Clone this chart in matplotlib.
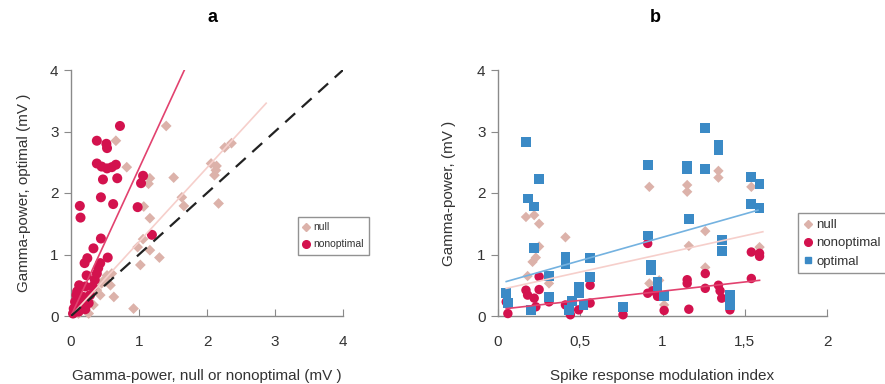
import matplotlib
matplotlib.use("Agg")
import matplotlib.pyplot as plt
from matplotlib.lines import Line2D

plt.rcParams['font.family'] = ['Liberation Sans', 'DejaVu Sans']

# ---------------- Panel a data ----------------
a_nonopt_x = [0.72, 0.38, 0.52, 0.53, 0.38, 0.45, 0.53, 0.60, 0.66, 0.47, 0.68, 0.44, 0.62,
              1.06, 1.03, 0.98, 0.13, 0.14, 1.19, 0.44, 0.33, 0.24, 0.20, 0.54, 0.43, 0.40,
              0.38, 0.35, 0.23, 0.12, 0.21, 0.32, 0.08, 0.18, 0.28, 0.06, 0.13, 0.26, 0.04,
              0.11, 0.21, 0.03, 0.09, 0.16, 0.07]
a_nonopt_y = [3.09, 2.85, 2.80, 2.73, 2.48, 2.43, 2.40, 2.42, 2.46, 2.22, 2.24, 1.93, 1.82,
              2.28, 2.16, 1.77, 1.79, 1.60, 1.32, 1.26, 1.10, 0.94, 0.86, 0.95, 0.86, 0.78,
              0.69, 0.59, 0.66, 0.50, 0.48, 0.48, 0.34, 0.31, 0.34, 0.23, 0.18, 0.21, 0.12,
              0.07, 0.11, 0.04, 0.40, 0.25, 0.15]

a_null_x = [1.40, 0.66, 0.82, 1.51, 1.16, 1.14, 1.07, 1.16, 1.63, 1.66, 2.06, 2.14, 2.13,
            2.11, 2.26, 2.36, 2.17, 0.98, 1.06, 1.02, 1.16, 1.30, 0.92, 0.60, 0.58, 0.63,
            0.45, 0.38, 0.33, 0.26, 0.28, 0.21, 0.11, 0.43, 0.53, 0.50]
a_null_y = [3.09, 2.85, 2.42, 2.25, 2.24, 2.15, 1.78, 1.59, 1.93, 1.79, 2.48, 2.44, 2.37,
            2.29, 2.74, 2.81, 1.83, 1.12, 1.25, 0.83, 1.07, 0.95, 0.12, 0.69, 0.50, 0.31,
            0.53, 0.42, 0.18, 0.04, 0.21, 0.15, 0.04, 0.34, 0.66, 0.60]

# regression / reference lines (x range, y range)
a_fit_nonopt = ([0.0, 1.68], [0.0, 4.03])
a_fit_null = ([0.0, 2.87], [0.0, 3.46])
a_identity = ([0.0, 4.0], [0.0, 4.0])

# ---------------- Panel b data ----------------
b_opt_x = [0.05, 0.06, 0.17, 0.18, 0.22, 0.25, 0.22, 0.20, 0.31, 0.31, 0.41, 0.41, 0.43, 0.45,
           0.49, 0.49, 0.52, 0.56, 0.56, 0.76, 0.91, 0.91, 0.93, 0.93, 0.97, 0.97, 1.01, 1.15,
           1.15, 1.16, 1.26, 1.26, 1.34, 1.34, 1.36, 1.36, 1.41, 1.41, 1.54, 1.59, 1.54, 1.59]
b_opt_y = [0.37, 0.21, 2.83, 1.91, 1.78, 2.23, 1.10, 0.10, 0.65, 0.31, 0.96, 0.85, 0.10, 0.25,
           0.47, 0.37, 0.18, 0.94, 0.64, 0.14, 2.46, 1.31, 0.83, 0.75, 0.56, 0.48, 0.33, 2.44,
           2.39, 1.58, 3.06, 2.39, 2.79, 2.70, 1.24, 1.06, 0.34, 0.18, 2.26, 2.14, 1.82, 1.76]

b_nonopt_x = [0.06, 0.05, 0.17, 0.18, 0.22, 0.25, 0.25, 0.23, 0.31, 0.41, 0.43, 0.44, 0.49,
              0.56, 0.56, 0.76, 0.91, 0.91, 0.94, 0.97, 1.01, 1.15, 1.15, 1.16, 1.26, 1.26,
              1.34, 1.35, 1.36, 1.41, 1.54, 1.59, 1.59, 1.54]
b_nonopt_y = [0.04, 0.23, 0.42, 0.34, 0.29, 0.64, 0.43, 0.15, 0.23, 0.18, 0.11, 0.02, 0.10,
              0.50, 0.21, 0.02, 1.18, 0.37, 0.41, 0.32, 0.09, 0.59, 0.53, 0.11, 0.69, 0.45,
              0.50, 0.41, 0.29, 0.10, 1.04, 0.97, 1.02, 0.61]

b_null_x = [0.17, 0.22, 0.25, 0.25, 0.23, 0.21, 0.18, 0.31, 0.41, 0.92, 0.92, 1.15, 1.15,
            1.16, 1.26, 1.26, 1.34, 1.34, 1.54, 1.59, 1.01, 0.98]
b_null_y = [1.61, 1.64, 1.50, 1.13, 0.95, 0.88, 0.65, 0.53, 1.28, 2.10, 0.53, 2.13, 2.02,
            1.14, 1.38, 0.79, 2.36, 2.25, 2.10, 1.12, 0.18, 0.58]

b_fit_opt = ([0.05, 1.58], [0.56, 1.72])
b_fit_null = ([0.05, 1.61], [0.45, 1.37])
b_fit_nonopt = ([0.05, 1.59], [0.12, 0.58])

a_xticks = [0, 1, 2, 3, 4]
a_xticklabels = ['0', '1', '2', '3', '4']
b_xticks = [0, 0.5, 1, 1.5, 2]
b_xticklabels = ['0', '0,5', '1', '1,5', '2']
yticks = [0, 1, 2, 3, 4]

C_NONOPT = '#d3124e'
C_NULL = '#dcb2aa'
C_OPT = '#3b8ac6'
C_LINE_NONOPT = '#e2426f'
C_LINE_NULL = '#f6cfcb'
C_LINE_OPT = '#74b2e0'
SPINE = '#8a8a8a'
TXT = '#333333'

fig = plt.figure(figsize=(8.85, 3.84), dpi=100)
ax1 = fig.add_axes([71/885, 68/384, 272/885, 246/384])
ax2 = fig.add_axes([498/885, 68/384, 329/885, 246/384])


def style(ax):
    for s in ['top', 'right']:
        ax.spines[s].set_visible(False)
    for s in ['left', 'bottom']:
        ax.spines[s].set_color(SPINE)
        ax.spines[s].set_linewidth(1.0)
    ax.tick_params(axis='y', direction='out', length=5, color=SPINE, labelsize=11, pad=4,
                   labelcolor=TXT)
    ax.tick_params(axis='x', direction='in', length=5, color=SPINE, labelsize=11, pad=14,
                   labelcolor=TXT)
    ax.set_ylim(0, 4)
    ax.set_yticks(yticks)
    ax.set_yticklabels([str(t) for t in yticks])


# Panel a
style(ax1)
ax1.set_xlim(0, 4)
ax1.set_xticks(a_xticks)
ax1.set_xticklabels(a_xticklabels)
ax1.scatter(a_null_x, a_null_y, marker='D', s=30, color=C_NULL, edgecolors='none', zorder=3, clip_on=False)
ax1.scatter(a_nonopt_x, a_nonopt_y, marker='o', s=52, color=C_NONOPT, edgecolors='none', zorder=4, clip_on=False)
ax1.plot(*a_fit_null, color=C_LINE_NULL, lw=1.2, zorder=5)
ax1.plot(*a_fit_nonopt, color=C_LINE_NONOPT, lw=1.2, zorder=5)
ax1.plot(*a_identity, color='#222222', lw=1.6, dashes=(6, 4), zorder=6)
ax1.set_xlabel('Gamma-power, null or nonoptimal (mV )', fontsize=11, labelpad=14, color=TXT)
ax1.set_ylabel('Gamma-power, optimal (mV )', fontsize=11, labelpad=14, color=TXT)

# Panel b
style(ax2)
ax2.set_xlim(0, 2)
ax2.set_xticks(b_xticks)
ax2.set_xticklabels(b_xticklabels)
ax2.scatter(b_null_x, b_null_y, marker='D', s=28, color=C_NULL, edgecolors='none', zorder=3, clip_on=False)
ax2.scatter(b_nonopt_x, b_nonopt_y, marker='o', s=46, color=C_NONOPT, edgecolors='none', zorder=4, clip_on=False)
ax2.scatter(b_opt_x, b_opt_y, marker='s', s=50, color=C_OPT, edgecolors='none', zorder=5, clip_on=False)
ax2.plot(*b_fit_opt, color=C_LINE_OPT, lw=1.2, zorder=6)
ax2.plot(*b_fit_null, color=C_LINE_NULL, lw=1.2, zorder=6)
ax2.plot(*b_fit_nonopt, color=C_LINE_NONOPT, lw=1.2, zorder=6)
ax2.set_xlabel('Spike response modulation index', fontsize=11, labelpad=14, color=TXT)
ax2.set_ylabel('Gamma-power, (mV )', fontsize=11, labelpad=15, color=TXT)

# Titles
fig.text(213/885, 1 - 18/384, 'a', fontsize=13, fontweight='bold', ha='center', va='center')
fig.text(655/885, 1 - 18/384, 'b', fontsize=13, fontweight='bold', ha='center', va='center')

# Legends
h_null = Line2D([], [], marker='D', ls='none', color=C_NULL, markersize=4)
h_non = Line2D([], [], marker='o', ls='none', color=C_NONOPT, markersize=5.5)
h_opt = Line2D([], [], marker='s', ls='none', color=C_OPT, markersize=5)

leg1 = fig.legend([h_null, h_non], ['null', 'nonoptimal'], loc='upper left',
                  bbox_to_anchor=(298/885, 1 - 217/384), fontsize=7.5, frameon=True,
                  fancybox=False, edgecolor='#777777', handlelength=0.6, handletextpad=0.4,
                  borderpad=0.5, labelspacing=0.7, borderaxespad=0)
leg1.get_frame().set_linewidth(1.0)
for t in leg1.get_texts():
    t.set_color(TXT)

leg2 = fig.legend([h_null, h_non, h_opt], ['null', 'nonoptimal', 'optimal'], loc='upper left',
                  bbox_to_anchor=(798/885, 1 - 213/384), fontsize=9.5, frameon=True,
                  fancybox=False, edgecolor='#777777', handlelength=0.6, handletextpad=0.35,
                  borderpad=0.45, labelspacing=0.45, borderaxespad=0)
leg2.get_frame().set_linewidth(1.0)
for t in leg2.get_texts():
    t.set_color(TXT)

fig.savefig('out.png', dpi=100)
